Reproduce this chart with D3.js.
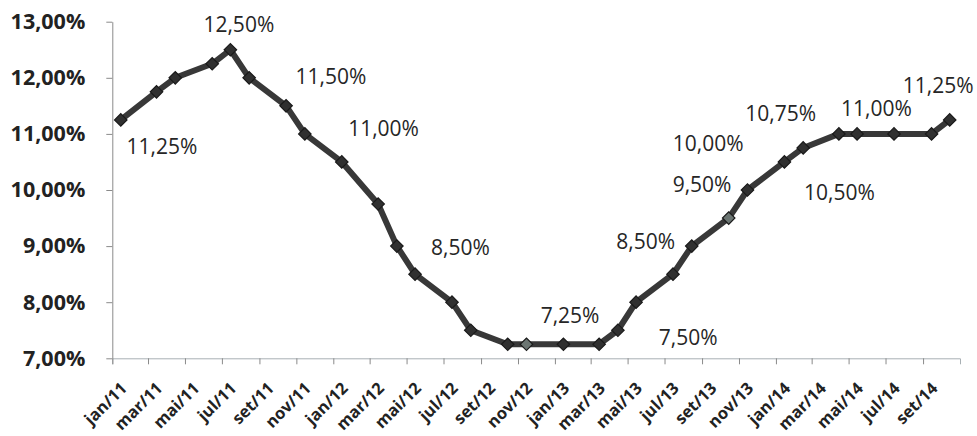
<!DOCTYPE html>
<html>
<head>
<meta charset="utf-8">
<script src="https://cdn.jsdelivr.net/npm/d3@7/dist/d3.min.js"></script>
<style>
  html, body { margin: 0; padding: 0; background: #fff; }
  svg { display: block; }
</style>
</head>
<body>
<svg id="chart" width="977" height="436"></svg>
<script>
// ---- data ----
const dates = ["2011-01-15","2011-03-15","2011-04-15","2011-06-15","2011-07-15","2011-08-15","2011-10-15","2011-11-15",
               "2012-01-15","2012-03-15","2012-04-15","2012-05-15","2012-07-15","2012-08-15","2012-10-15","2012-11-15",
               "2013-01-15","2013-03-15","2013-04-15","2013-05-15","2013-07-15","2013-08-15","2013-10-15","2013-11-15",
               "2014-01-15","2014-02-15","2014-04-15","2014-05-15","2014-07-15","2014-09-15","2014-10-15"];
const selic = [11.25,11.75,12.00,12.25,12.50,12.00,11.50,11.00,
               10.50,9.75,9.00,8.50,8.00,7.50,7.25,7.25,
               7.25,7.25,7.50,8.00,8.50,9.00,9.50,10.00,
               10.50,10.75,11.00,11.00,11.00,11.00,11.25];
const highlighted = ["2012-11-15","2013-10-15"];
const tickDates = ["2011-01-01","2011-03-01","2011-05-01","2011-07-01","2011-09-01","2011-11-01",
                   "2012-01-01","2012-03-01","2012-05-01","2012-07-01","2012-09-01","2012-11-01",
                   "2013-01-01","2013-03-01","2013-05-01","2013-07-01","2013-09-01","2013-11-01",
                   "2014-01-01","2014-03-01","2014-05-01","2014-07-01","2014-09-01"];
const tickLabels = ["jan/11","mar/11","mai/11","jul/11","set/11","nov/11",
                    "jan/12","mar/12","mai/12","jul/12","set/12","nov/12",
                    "jan/13","mar/13","mai/13","jul/13","set/13","nov/13",
                    "jan/14","mar/14","mai/14","jul/14","set/14"];
const yTicks = [7, 8, 9, 10, 11, 12, 13];
// annotation labels: text, anchor date, anchor value (data coordinates)
const annText  = ["12,50%","11,25%","11,50%","11,00%","8,50%","7,25%","7,50%","8,50%","9,50%","10,00%","10,75%","11,00%","11,25%","10,50%"];
const annDate  = ["2011-07-29","2011-03-24","2011-12-28","2012-03-24","2012-07-29","2013-01-26","2013-08-09","2013-05-31","2013-09-01","2013-09-11","2014-01-09","2014-06-16","2014-09-26","2014-04-16"];
const annValue = [12.96,10.78,12.03,11.11,8.98,7.77,7.38,9.09,10.10,10.84,11.37,11.46,11.87,9.97];

// ---- layout ----
const W = 977, H = 436;
const margin = {top: 21.7, right: 17, bottom: 77.7, left: 112.3};
const parse = d3.utcParse("%Y-%m-%d");
const svg = d3.select("#chart");
svg.append("rect").attr("width", W).attr("height", H).attr("fill", "#fff");

const x = d3.scaleUtc()
  .domain([parse("2011-01-01"), parse("2014-11-01")])
  .range([margin.left, W - margin.right]);
const y = d3.scaleLinear()
  .domain([7, 13])
  .range([H - margin.bottom, margin.top]);

const fmt = v => d3.format(".2f")(v).replace(".", ",") + "%";

// y axis
const yAxis = svg.append("g")
  .attr("transform", `translate(${margin.left},0)`)
  .call(d3.axisLeft(y).tickValues(yTicks).tickFormat(fmt).tickSize(6).tickSizeOuter(0).tickPadding(21));
yAxis.select(".domain").attr("stroke", "#8a8a8a").attr("stroke-width", 1);
yAxis.selectAll(".tick line").attr("stroke", "#8a8a8a");
yAxis.selectAll(".tick text")
  .attr("fill", "#222")
  .style("font-family", "'Open Sans', sans-serif")
  .style("font-weight", "700")
  .style("font-size", "21.5px");

// x axis
const tickMap = new Map(tickDates.map((d, i) => [+parse(d), tickLabels[i]]));
const xAxis = svg.append("g")
  .attr("transform", `translate(0,${H - margin.bottom})`)
  .call(d3.axisBottom(x).tickValues(tickDates.map(parse)).tickFormat(d => tickMap.get(+d)).tickSize(6).tickSizeOuter(6));
xAxis.select(".domain").attr("stroke", "#a8b0b4").attr("stroke-width", 1);
xAxis.selectAll(".tick line").attr("stroke", "#8a8a8a");
xAxis.selectAll(".tick text")
  .attr("fill", "#222")
  .attr("text-anchor", "end")
  .attr("dy", null)
  .attr("y", null)
  .attr("transform", "translate(15,31) rotate(-45)")
  .style("font-family", "'Open Sans', sans-serif")
  .style("font-weight", "700")
  .style("font-size", "16.5px");

// line
const pts = dates.map((d, i) => ({date: parse(d), key: d, value: selic[i]}));
svg.append("path")
  .datum(pts)
  .attr("fill", "none")
  .attr("stroke", "#383838")
  .attr("stroke-width", 6)
  .attr("stroke-linejoin", "round")
  .attr("d", d3.line().x(d => x(d.date)).y(d => y(d.value)));

// markers (diamonds)
const diamond = d3.symbol().type(d3.symbolSquare).size(78);
svg.append("g").selectAll("path")
  .data(pts)
  .join("path")
  .attr("d", diamond)
  .attr("transform", d => `translate(${x(d.date)},${y(d.value)}) rotate(45)`)
  .attr("fill", d => highlighted.includes(d.key) ? "#6b7572" : "#303030")
  .attr("stroke", "#1a1a1a")
  .attr("stroke-width", 1.2);

// annotations
svg.append("g").selectAll("text")
  .data(annText.map((t, i) => ({t, date: parse(annDate[i]), v: annValue[i]})))
  .join("text")
  .attr("x", d => x(d.date))
  .attr("y", d => y(d.v))
  .attr("text-anchor", "middle")
  .attr("dominant-baseline", "central")
  .attr("fill", "#262626")
  .style("font-family", "'Open Sans', sans-serif")
  .style("font-size", "21px")
  .text(d => d.t);
</script>
</body>
</html>
